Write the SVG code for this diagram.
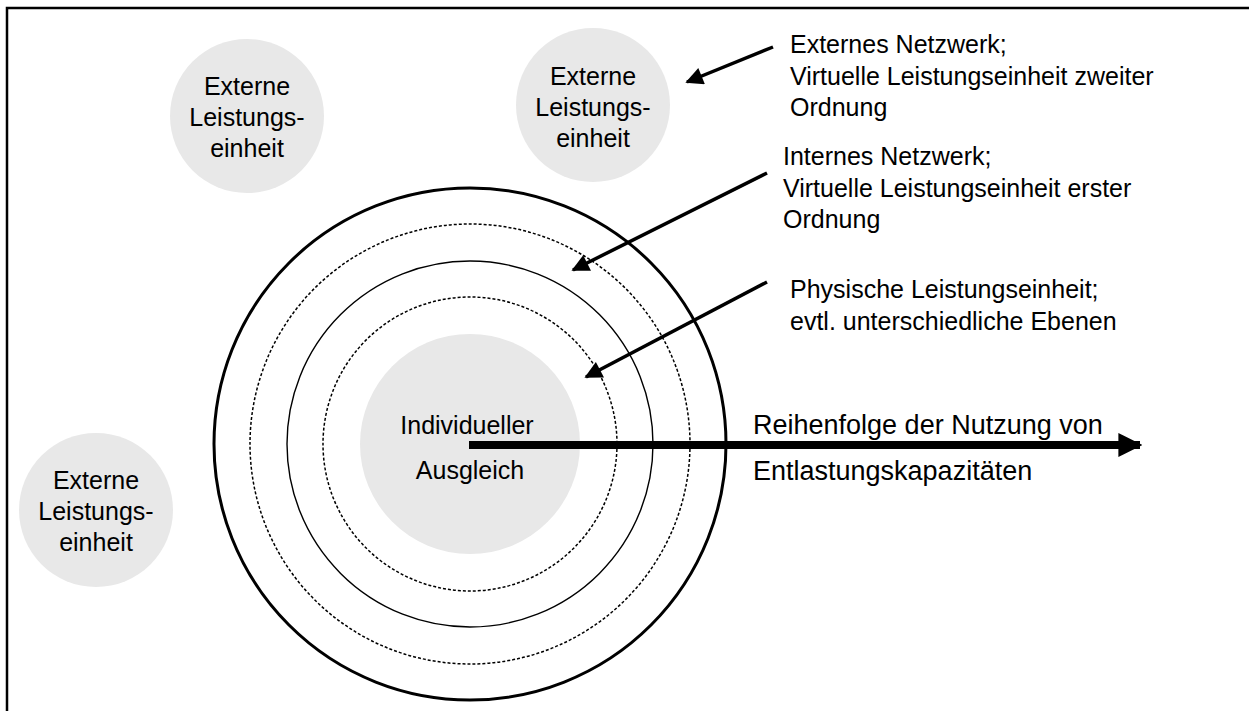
<svg xmlns="http://www.w3.org/2000/svg" width="1249" height="711" viewBox="0 0 1249 711">
<style>
text{font-family:"Liberation Sans",Arial,sans-serif;font-size:25px;fill:#000}
.c{text-anchor:middle}
.big{font-size:27px}
.gray{fill:#e8e8e8;stroke:none}
.ring{fill:none;stroke:#000}
.dash{stroke-width:1.5;stroke-dasharray:3 2}
.lbl{stroke:#000;stroke-width:3.5;fill:none}
</style>
<defs>
<marker id="ah" viewBox="0 0 10 10" refX="9" refY="5" markerWidth="6" markerHeight="5" markerUnits="strokeWidth" orient="auto">
<path d="M0,0 L10,5 L0,10 z" fill="#000"/>
</marker>
<marker id="ahBig" viewBox="0 0 10 10" refX="9" refY="5" markerWidth="3" markerHeight="3" markerUnits="strokeWidth" orient="auto">
<path d="M0,0 L10,5 L0,10 z" fill="#000"/>
</marker>
</defs>
<rect x="0" y="0" width="1249" height="711" fill="#fff"/>
<rect x="7" y="8" width="1300" height="800" fill="none" stroke="#000" stroke-width="2.5"/>

<g id="rings">
<circle class="ring" cx="470" cy="444" r="256" stroke-width="3"/>
<circle class="ring dash" cx="470" cy="444" r="220"/>
<circle class="ring" cx="470" cy="444" r="183" stroke-width="1.4"/>
<circle class="ring dash" cx="470" cy="444" r="147"/>
</g>

<g id="ext1">
<circle class="gray" cx="247" cy="116" r="77"/>
<text class="c" x="247" y="95">Externe</text>
<text class="c" x="247" y="126">Leistungs-</text>
<text class="c" x="247" y="157">einheit</text>
</g>
<g id="ext2">
<circle class="gray" cx="593" cy="105" r="77"/>
<text class="c" x="593" y="85">Externe</text>
<text class="c" x="593" y="116">Leistungs-</text>
<text class="c" x="593" y="147">einheit</text>
</g>
<g id="ext3">
<circle class="gray" cx="96" cy="510" r="77"/>
<text class="c" x="96" y="489">Externe</text>
<text class="c" x="96" y="520">Leistungs-</text>
<text class="c" x="96" y="551">einheit</text>
</g>
<g id="core">
<circle class="gray" cx="470" cy="444" r="110"/>
<text class="c" x="467" y="434" font-size="26">Individueller</text>
<text class="c" x="470" y="479" font-size="26">Ausgleich</text>
</g>

<g id="connectors">
<line class="lbl" x1="773" y1="47" x2="687" y2="82" marker-end="url(#ah)"/>
<line class="lbl" x1="767" y1="173" x2="573" y2="270" marker-end="url(#ah)"/>
<line class="lbl" x1="767" y1="282" x2="586" y2="377" marker-end="url(#ah)"/>
<line x1="469" y1="445" x2="1140" y2="445" stroke="#000" stroke-width="8" marker-end="url(#ahBig)"/>
</g>

<g id="labels">
<text x="790" y="53">Externes Netzwerk;</text>
<text x="790" y="85">Virtuelle Leistungseinheit zweiter</text>
<text x="790" y="116">Ordnung</text>
<text x="783" y="165">Internes Netzwerk;</text>
<text x="783" y="197">Virtuelle Leistungseinheit erster</text>
<text x="783" y="228">Ordnung</text>
<text x="790" y="298">Physische Leistungseinheit;</text>
<text x="790" y="330">evtl. unterschiedliche Ebenen</text>
<text class="big" x="753" y="434">Reihenfolge der Nutzung von</text>
<text class="big" x="753" y="480">Entlastungskapazitäten</text>
</g>
</svg>
